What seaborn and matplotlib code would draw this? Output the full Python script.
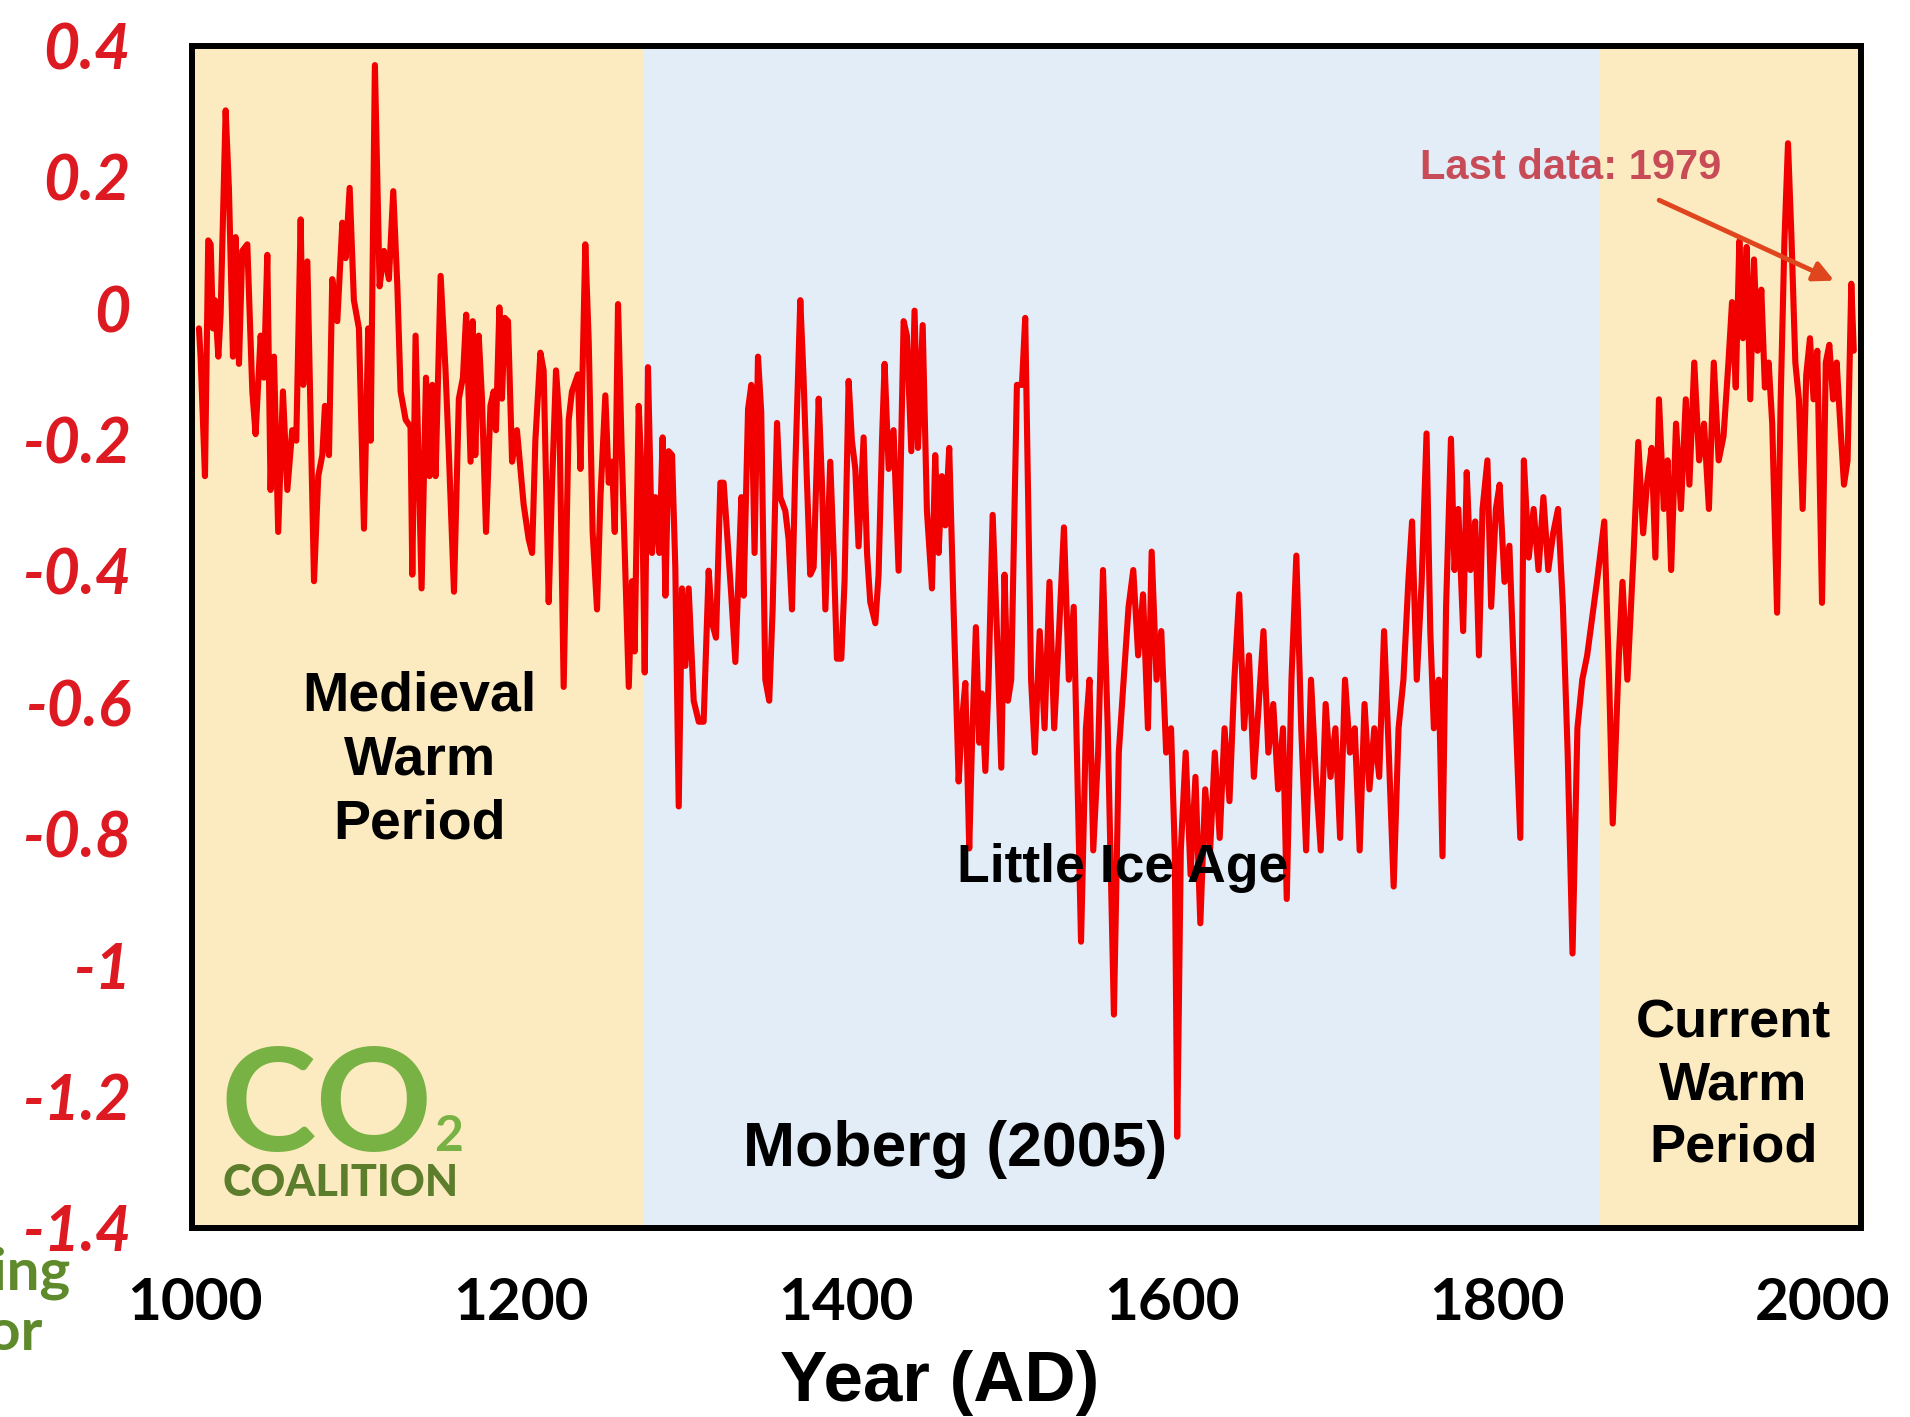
import matplotlib
matplotlib.use("Agg")
import matplotlib.pyplot as plt
import numpy as np
import seaborn as sns

# Moberg (2005) reconstruction (deg C anomaly)
years = [
    1002.3, 1003.3, 1006.0, 1008.0, 1009.5, 1010.9, 1012.1, 1014.2, 1015.6, 1018.7,
    1020.7, 1023.2, 1024.8, 1026.9, 1028.9, 1032.0, 1035.1, 1037.1, 1040.2, 1042.2,
    1044.3, 1046.3, 1048.4, 1051.0, 1053.9, 1056.6, 1059.6, 1062.1, 1064.8, 1066.4,
    1068.9, 1073.0, 1075.6, 1078.1, 1079.7, 1082.2, 1084.2, 1087.3, 1090.4, 1092.4,
    1094.9, 1097.5, 1100.6, 1103.7, 1106.3, 1107.8, 1110.4, 1113.3, 1116.0, 1119.0,
    1121.7, 1124.2, 1126.2, 1129.3, 1132.3, 1133.4, 1135.4, 1139.1, 1141.8, 1144.0,
    1145.7, 1147.7, 1150.8, 1153.8, 1155.9, 1159.0, 1162.0, 1164.5, 1166.5, 1169.2,
    1170.5, 1172.1, 1174.2, 1176.2, 1178.7, 1181.4, 1183.4, 1184.8, 1186.9, 1188.5,
    1190.2, 1192.2, 1194.7, 1197.7, 1201.8, 1204.9, 1207.0, 1209.0, 1212.1, 1214.1,
    1217.2, 1219.3, 1221.7, 1223.8, 1226.4, 1229.5, 1231.5, 1235.2, 1236.7, 1239.7,
    1241.8, 1244.2, 1246.9, 1249.0, 1252.0, 1254.1, 1256.1, 1257.8, 1259.8, 1261.9,
    1266.4, 1268.4, 1270.0, 1272.5, 1274.5, 1276.2, 1278.2, 1280.7, 1282.7, 1285.2,
    1287.2, 1288.9, 1290.9, 1293.0, 1295.0, 1297.1, 1299.1, 1301.2, 1303.2, 1306.3,
    1309.4, 1312.4, 1315.5, 1317.6, 1320.0, 1322.7, 1324.7, 1329.4, 1331.9, 1334.0,
    1335.6, 1337.0, 1339.7, 1341.7, 1343.7, 1345.8, 1347.8, 1350.3, 1352.7, 1354.8,
    1357.5, 1359.5, 1362.6, 1364.6, 1366.7, 1368.7, 1371.8, 1373.8, 1375.9, 1377.9,
    1380.0, 1383.1, 1385.1, 1387.2, 1390.2, 1392.3, 1394.3, 1397.0, 1399.0, 1401.5,
    1403.5, 1405.6, 1407.6, 1410.7, 1412.8, 1414.8, 1417.9, 1419.9, 1422.0, 1423.6,
    1426.1, 1429.1, 1432.2, 1435.3, 1437.3, 1440.0, 1442.0, 1444.1, 1447.0, 1449.6,
    1452.7, 1454.7, 1456.8, 1458.8, 1460.9, 1463.3, 1466.0, 1469.1, 1471.1, 1473.2,
    1475.6, 1477.3, 1479.7, 1481.8, 1483.4, 1485.5, 1487.5, 1490.0, 1492.6, 1495.3,
    1497.3, 1499.4, 1501.4, 1504.9, 1508.0, 1510.0, 1513.6, 1515.9, 1518.9, 1521.9,
    1524.9, 1527.8, 1530.8, 1533.8, 1536.8, 1539.8, 1542.1, 1544.3, 1547.3, 1549.5,
    1551.8, 1554.8, 1557.8, 1560.7, 1564.5, 1567.5, 1570.5, 1573.5, 1576.4, 1579.4,
    1582.4, 1585.4, 1587.7, 1590.7, 1593.6, 1596.6, 1599.6, 1601.9, 1603.4, 1605.6,
    1608.6, 1611.6, 1614.6, 1617.6, 1620.6, 1623.6, 1626.5, 1629.5, 1632.5, 1635.5,
    1638.5, 1641.5, 1644.5, 1647.5, 1650.5, 1653.5, 1656.4, 1659.4, 1662.4, 1665.4,
    1668.4, 1670.7, 1673.6, 1676.6, 1679.6, 1682.6, 1685.6, 1688.6, 1691.6, 1694.6,
    1697.6, 1700.6, 1703.5, 1706.5, 1709.5, 1712.5, 1715.5, 1718.5, 1721.5, 1724.5,
    1727.5, 1730.5, 1733.4, 1736.4, 1739.4, 1742.4, 1745.4, 1747.7, 1750.6, 1753.6,
    1756.6, 1758.9, 1761.1, 1764.1, 1766.4, 1768.6, 1771.6, 1773.8, 1776.1, 1779.1,
    1781.3, 1783.6, 1786.5, 1788.8, 1791.0, 1794.0, 1796.3, 1799.2, 1801.5, 1804.5,
    1807.5, 1810.5, 1814.2, 1816.4, 1819.4, 1822.4, 1825.4, 1828.4, 1831.4, 1834.4,
    1837.4, 1840.4, 1843.3, 1846.3, 1849.3, 1852.3, 1855.3, 1858.3, 1861.3, 1865.8,
    1868.8, 1871.0, 1874.8, 1877.0, 1880.0, 1883.7, 1886.7, 1889.7, 1892.0, 1894.9,
    1897.2, 1899.4, 1902.4, 1904.7, 1906.9, 1909.9, 1912.9, 1915.9, 1918.1, 1921.1,
    1924.1, 1927.1, 1930.1, 1933.1, 1936.1, 1939.1, 1942.1, 1944.3, 1946.6, 1948.8,
    1951.0, 1953.3, 1955.5, 1957.8, 1960.0, 1962.3, 1964.5, 1966.8, 1969.0, 1972.0,
    1974.2, 1976.5, 1978.7, 1980.9, 1983.2, 1985.4, 1987.7, 1989.9, 1992.2, 1994.4,
    1996.7, 1999.6, 2001.9, 2004.1, 2006.4, 2008.6, 2010.8, 2013.1, 2015.3, 2017.6,
    2019.1,
]
anomaly = [
    -0.030, -0.073, -0.255, 0.104, 0.098, -0.030, 0.013, -0.073, -0.009, 0.302,
    0.184, -0.073, 0.109, -0.084, 0.088, 0.098, -0.126, -0.191, -0.041, -0.105,
    0.082, -0.276, -0.073, -0.340, -0.126, -0.276, -0.185, -0.201, 0.136, -0.116,
    0.072, -0.415, -0.255, -0.223, -0.148, -0.223, 0.045, -0.019, 0.131, 0.077,
    0.184, 0.013, -0.030, -0.335, -0.030, -0.201, 0.371, 0.034, 0.088, 0.045,
    0.179, 0.034, -0.126, -0.169, -0.180, -0.405, -0.041, -0.426, -0.105, -0.255,
    -0.116, -0.255, 0.050, -0.094, -0.223, -0.431, -0.137, -0.105, -0.009, -0.233,
    -0.019, -0.223, -0.041, -0.137, -0.340, -0.148, -0.126, -0.185, 0.002, -0.137,
    -0.014, -0.019, -0.233, -0.185, -0.298, -0.351, -0.372, -0.201, -0.067, -0.094,
    -0.447, -0.265, -0.094, -0.169, -0.576, -0.169, -0.126, -0.100, -0.244, 0.098,
    -0.051, -0.340, -0.458, -0.287, -0.132, -0.265, -0.233, -0.340, 0.007, -0.201,
    -0.576, -0.415, -0.522, -0.148, -0.265, -0.554, -0.089, -0.372, -0.287, -0.372,
    -0.196, -0.437, -0.217, -0.223, -0.394, -0.758, -0.426, -0.544, -0.426, -0.597,
    -0.629, -0.629, -0.399, -0.479, -0.501, -0.265, -0.265, -0.437, -0.538, -0.394,
    -0.287, -0.437, -0.153, -0.116, -0.372, -0.073, -0.158, -0.565, -0.597, -0.458,
    -0.174, -0.287, -0.308, -0.351, -0.458, -0.244, 0.013, -0.105, -0.265, -0.405,
    -0.394, -0.137, -0.265, -0.458, -0.233, -0.372, -0.533, -0.533, -0.415, -0.110,
    -0.201, -0.244, -0.362, -0.196, -0.372, -0.447, -0.479, -0.405, -0.201, -0.084,
    -0.244, -0.185, -0.399, -0.019, -0.041, -0.217, -0.003, -0.212, -0.025, -0.308,
    -0.426, -0.223, -0.372, -0.255, -0.330, -0.212, -0.458, -0.720, -0.629, -0.570,
    -0.822, -0.661, -0.485, -0.661, -0.586, -0.704, -0.565, -0.314, -0.490, -0.699,
    -0.405, -0.597, -0.565, -0.116, -0.116, -0.014, -0.565, -0.676, -0.491, -0.639,
    -0.416, -0.639, -0.491, -0.333, -0.565, -0.454, -0.713, -0.964, -0.639, -0.565,
    -0.825, -0.676, -0.398, -0.639, -1.075, -0.676, -0.565, -0.454, -0.398, -0.528,
    -0.435, -0.639, -0.370, -0.565, -0.491, -0.676, -0.639, -0.825, -1.261, -0.825,
    -0.676, -0.862, -0.713, -0.936, -0.732, -0.825, -0.676, -0.806, -0.639, -0.750,
    -0.565, -0.435, -0.639, -0.528, -0.713, -0.602, -0.491, -0.676, -0.602, -0.732,
    -0.639, -0.899, -0.565, -0.376, -0.639, -0.825, -0.565, -0.713, -0.825, -0.602,
    -0.713, -0.639, -0.806, -0.565, -0.676, -0.639, -0.825, -0.602, -0.732, -0.639,
    -0.713, -0.491, -0.676, -0.880, -0.639, -0.565, -0.416, -0.324, -0.565, -0.416,
    -0.190, -0.491, -0.639, -0.565, -0.834, -0.454, -0.198, -0.398, -0.305, -0.491,
    -0.249, -0.398, -0.324, -0.528, -0.305, -0.231, -0.454, -0.305, -0.268, -0.416,
    -0.361, -0.565, -0.806, -0.231, -0.379, -0.305, -0.398, -0.287, -0.398, -0.342,
    -0.305, -0.454, -0.676, -0.982, -0.639, -0.565, -0.528, -0.472, -0.416, -0.324,
    -0.565, -0.784, -0.528, -0.416, -0.565, -0.379, -0.203, -0.342, -0.268, -0.212,
    -0.379, -0.138, -0.305, -0.231, -0.398, -0.175, -0.305, -0.138, -0.268, -0.082,
    -0.231, -0.175, -0.305, -0.082, -0.231, -0.194, -0.082, 0.010, -0.120, 0.103,
    -0.045, 0.094, -0.138, 0.075, -0.064, 0.029, -0.120, -0.082, -0.175, -0.463,
    -0.138, 0.103, 0.252, 0.103, -0.082, -0.138, -0.305, -0.101, -0.045, -0.138,
    -0.064, -0.448, -0.082, -0.055, -0.138, -0.082, -0.175, -0.268, -0.231, 0.038,
    -0.064,
]

period_edges = [998, 1275, 1863, 2024]
period_colors = ["#FCEBC0", "#E3EDF7", "#FCEBC0"]
x_ticks = [1000, 1200, 1400, 1600, 1800, 2000]
y_ticks = [0.4, 0.2, 0.0, -0.2, -0.4, -0.6, -0.8, -1.0, -1.2, -1.4]
y_tick_labels = ["0.4", "0.2", "0", "-0.2", "-0.4", "-0.6", "-0.8", "-1", "-1.2", "-1.4"]

sns.set_theme(style="white")
plt.rcParams["font.family"] = ["Liberation Sans", "DejaVu Sans"]

fig = plt.figure(figsize=(19.1, 14.17), dpi=100)
ax = fig.add_axes([0.1005, 0.1334, 0.8738, 0.8341])

for left, right, color in zip(period_edges[:-1], period_edges[1:], period_colors):
    ax.axvspan(left, right, color=color, zorder=0, lw=0)

sns.lineplot(x=years, y=anomaly, ax=ax, color="#F20000", linewidth=4.4,
             estimator=None, sort=False, zorder=3)

ax.set_xlim(998, 2023.5)
ax.set_ylim(-1.4, 0.4)
ax.set_xticks(x_ticks)
ax.set_xticklabels([str(t) for t in x_ticks], fontfamily="Lato", fontweight="bold",
                   fontsize=42, color="black")
ax.set_yticks(y_ticks)
ax.set_yticklabels(y_tick_labels, fontfamily="Lato", fontweight="bold", fontstyle="italic",
                   fontsize=45, color="#DD1A22")
ax.tick_params(axis="x", length=0, pad=35)
ax.tick_params(axis="y", length=0, pad=44)
ax.set_xlabel("")
ax.set_ylabel("")
for spine in ax.spines.values():
    spine.set_visible(True)
    spine.set_color("black")
    spine.set_linewidth(4.3)
    spine.set_zorder(5)

label_kw = dict(fontweight="bold", color="black", ha="center", va="center", zorder=4)
ax.text(1138, -0.688, "Medieval\nWarm\nPeriod", fontsize=40, linespacing=1.3, **label_kw)
ax.text(1570, -0.852, "Little Ice Age", fontsize=38.5, **label_kw)
ax.text(1467, -1.28, "Moberg (2005)", fontsize=45, **label_kw)
ax.text(1945, -1.183, "Current\nWarm\nPeriod", fontsize=39, linespacing=1.3, **label_kw)

ax.text(1845, 0.214, "Last data: 1979", fontsize=30, fontweight="bold",
        color="#C84C58", ha="center", va="center", zorder=4)
ax.annotate("", xy=(2008.6, 0.041), xytext=(1898, 0.167),
            arrowprops=dict(arrowstyle="-|>", color="#E0461E", lw=3.5,
                            mutation_scale=30), zorder=4)

# CO2 Coalition logo, drawn as text
fig.text(220 / 1910, 1 - 1151 / 1417, "CO", fontfamily="Lato", fontweight="bold",
         fontsize=104, color="#79B244", ha="left", va="baseline")
fig.text(434 / 1910, 1 - 1151 / 1417, "2", fontfamily="Lato", fontweight="bold",
         fontsize=36, color="#79B244", ha="left", va="baseline")
fig.text(222 / 1910, 1 - 1196 / 1417, "COALITION", fontfamily="Lato", fontweight="black",
         fontsize=31, color="#5C7E2C", ha="left", va="baseline")

# cropped green caption at the left edge
fig.text(71 / 1910, 1 - 1289 / 1417, "ning", fontfamily="Lato", fontweight="bold",
         fontsize=42, color="#5E8A2C", ha="right", va="baseline")
fig.text(42 / 1910, 1 - 1350 / 1417, "or", fontfamily="Lato", fontweight="bold",
         fontsize=42, color="#5E8A2C", ha="right", va="baseline")

fig.text(940 / 1910, 1 - 1401 / 1417, "Year (AD)", fontsize=51, fontweight="bold",
         color="black", ha="center", va="baseline")

fig.savefig("out.png", dpi=100, facecolor="white")
